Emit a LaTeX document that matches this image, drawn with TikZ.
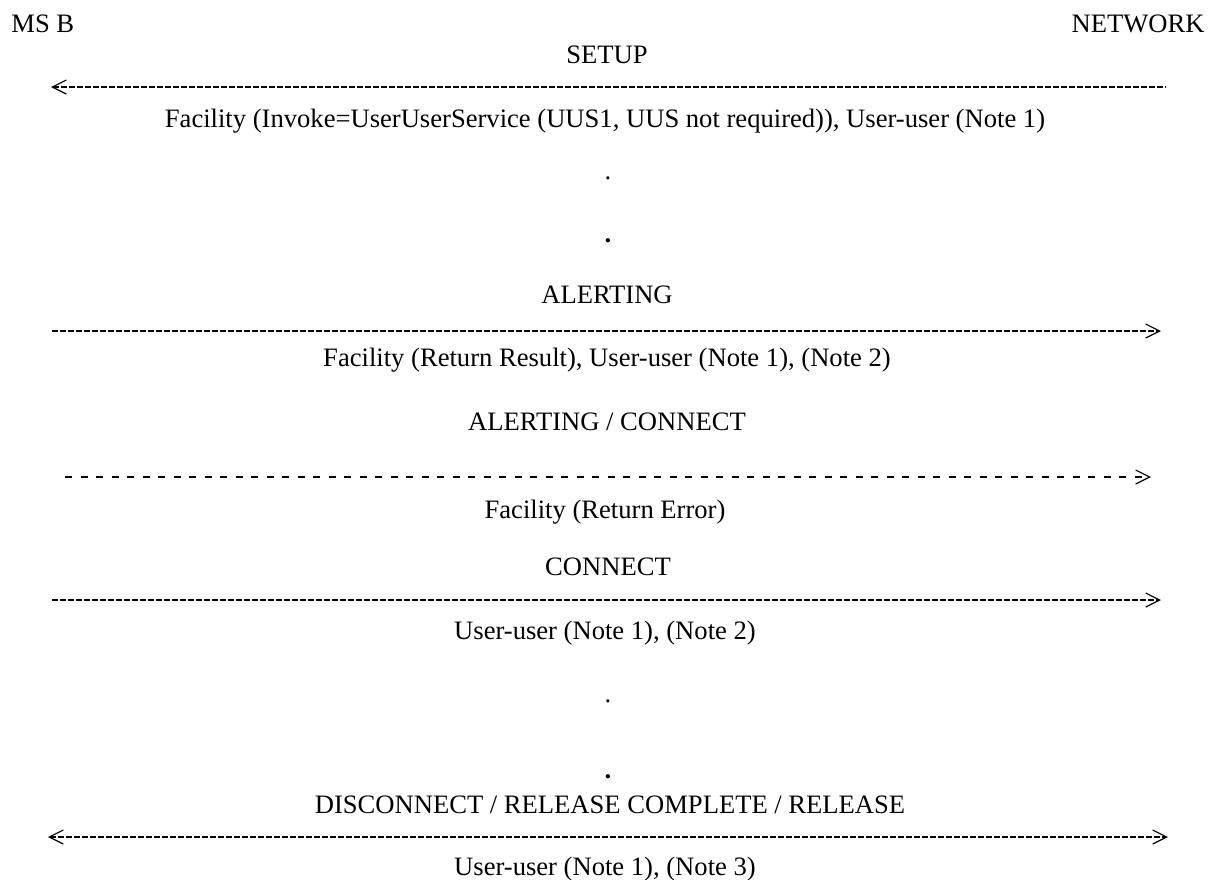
\documentclass[tikz,border=0pt]{standalone}
\usepackage{fontspec}
\setmainfont{Liberation Serif}
\usetikzlibrary{arrows.meta}
\tikzset{
  chev/.tip={Straight Barb[length=7pt,width=7pt,line width=0.6pt]},
  lbl/.style={anchor=base,inner sep=0pt,font=\fontsize{13.3}{15}\selectfont},
  msg/.style={line width=1pt,dash pattern=on 3pt off 1pt},
  msgdash/.style={line width=1pt,dash pattern=on 3.5pt off 4.25pt},
}
\begin{document}
\begin{tikzpicture}[x=0.5pt,y=-0.5pt]
\path[use as bounding box] (0,0) rectangle (1209,879);
% headers
\node[lbl,anchor=base west] (msb) at (11,32) {MS B};
\node[lbl,anchor=base east] (net) at (1205,32) {NETWORK};
% message 1
\node[lbl] (t1) at (607,63) {SETUP};
\coordinate (a1L) at (51,87);
\coordinate (a1R) at (1165,87);
\draw[msg,{chev}-] (a1L) -- (a1R);
\node[lbl] (p1) at (605,127) {Facility (Invoke=UserUserService (UUS1, UUS not required)), User-user (Note 1)};
% dots
\node[lbl] (d1) at (608,179) {.};
\node[lbl] (d2) at (608,242) {\textbf{.}};
% message 2
\node[lbl] (t2) at (607,303) {ALERTING};
\coordinate (a2L) at (52,331);
\coordinate (a2R) at (1161,331);
\draw[msg,-{chev}] (a2L) -- (a2R);
\node[lbl] (p2) at (607,366) {Facility (Return Result), User-user (Note 1), (Note 2)};
% message 3
\node[lbl] (t3) at (607,430) {ALERTING / CONNECT};
\coordinate (a3L) at (65,477);
\coordinate (a3R) at (1151,477);
\draw[msgdash,-{chev}] (a3L) -- (a3R);
\node[lbl] (p3) at (605,518) {Facility (Return Error)};
% message 4
\node[lbl] (t4) at (608,575) {CONNECT};
\coordinate (a4L) at (52,600);
\coordinate (a4R) at (1161,600);
\draw[msg,-{chev}] (a4L) -- (a4R);
\node[lbl] (p4) at (605,639) {User-user (Note 1), (Note 2)};
% dots
\node[lbl] (d3) at (608,702) {.};
\node[lbl] (d4) at (608,778) {\textbf{.}};
% message 5
\node[lbl] (t5) at (610,813) {DISCONNECT / RELEASE COMPLETE / RELEASE};
\coordinate (a5L) at (48,837);
\coordinate (a5R) at (1168,837);
\draw[msg,{chev}-{chev}] (a5L) -- (a5R);
\node[lbl] (p5) at (605,875) {User-user (Note 1), (Note 3)};
\end{tikzpicture}
\end{document}
